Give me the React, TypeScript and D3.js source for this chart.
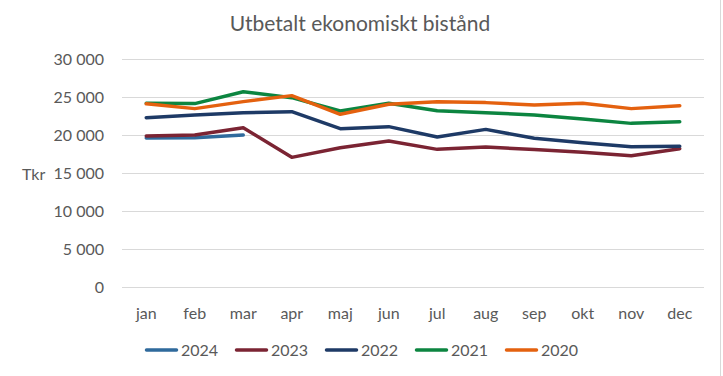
import React from "react";
import * as d3 from "d3";

const months = ["jan", "feb", "mar", "apr", "maj", "jun", "jul", "aug", "sep", "okt", "nov", "dec"];
const years = ["2024", "2023", "2022", "2021", "2020"];
const v2024 = [19600, 19650, 20000];
const v2023 = [19870, 20000, 20960, 17060, 18330, 19210, 18110, 18420, 18080, 17720, 17280, 18200];
const v2022 = [22280, 22630, 22940, 23070, 20830, 21100, 19740, 20740, 19560, 18990, 18460, 18510];
const v2021 = [24170, 24130, 25700, 24910, 23160, 24170, 23200, 22940, 22630, 22100, 21530, 21750];
const v2020 = [24100, 23470, 24390, 25180, 22720, 24040, 24390, 24260, 23950, 24170, 23470, 23860];
const yTicks = [0, 5000, 10000, 15000, 20000, 25000, 30000];
const colors = ["#2F6A9C", "#7B2433", "#1E3A66", "#0C8540", "#E4610F"];

const seriesValues = [v2024, v2023, v2022, v2021, v2020];

const FONT = "Lato, 'Open Sans', sans-serif";
const TEXT = "#595959";

export default function App() {
  const W = 723, H = 376;
  const x = d3.scaleBand<string>().domain(months).range([122, 704]).padding(0);
  const y = d3.scaleLinear().domain([0, 30000]).range([287, 59]);
  const cx = (m: string) => (x(m) as number) + x.bandwidth() / 2;
  const fmt = (v: number) => d3.format(",")(v).replace(/,/g, " ");
  const line = d3
    .line<number>()
    .x((_, i) => cx(months[i]))
    .y((d) => y(d));

  return (
    <svg width={W} height={H} style={{ position: "absolute", left: 0, top: 0 }} fontFamily={FONT}>
      <rect x={0} y={0} width={W} height={H} fill="#fff" />
      <line x1={720.5} x2={720.5} y1={0} y2={H} stroke="#d9d9d9" strokeWidth={1} />
      <text x={360} y={31} textAnchor="middle" fontSize={21} fill={TEXT}>
        Utbetalt ekonomiskt bistånd
      </text>
      {yTicks.map((t) => (
        <g key={t}>
          <line x1={122} x2={704} y1={Math.round(y(t)) + 0.5} y2={Math.round(y(t)) + 0.5} stroke="#d9d9d9" strokeWidth={1} />
          <text x={104} y={y(t)} dy="0.35em" textAnchor="end" fontSize={16} fill={TEXT}>
            {fmt(t)}
          </text>
        </g>
      ))}
      <text x={22} y={y(15000) + 1} dy="0.35em" fontSize={16} fill={TEXT}>
        Tkr
      </text>
      {months.map((m) => (
        <text key={m} x={cx(m)} y={313} dy="0.35em" textAnchor="middle" fontSize={16} fill={TEXT}>
          {m}
        </text>
      ))}
      {seriesValues.map((vals, i) => (
        <path
          key={years[i]}
          d={line(vals) as string}
          fill="none"
          stroke={colors[i]}
          strokeWidth={3.5}
          strokeLinecap="round"
          strokeLinejoin="round"
        />
      ))}
      {years.map((yr, i) => {
        const lx = 145 + i * 90;
        return (
          <g key={yr}>
            <line x1={lx + 1.5} x2={lx + 31.5} y1={350} y2={350} stroke={colors[i]} strokeWidth={3.5} strokeLinecap="round" />
            <text x={lx + 36} y={350} dy="0.35em" fontSize={16} fill={TEXT}>
              {yr}
            </text>
          </g>
        );
      })}
    </svg>
  );
}
